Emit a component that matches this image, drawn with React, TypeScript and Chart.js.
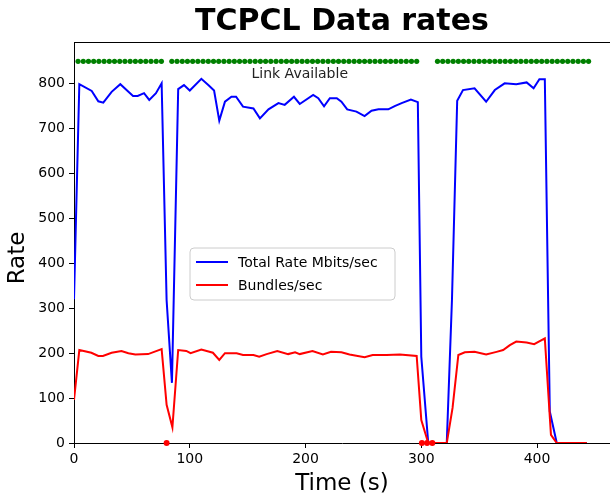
import React, { useEffect, useRef } from 'react';
import { Chart, registerables } from 'chart.js';

Chart.register(...registerables);

// ---- Data ----
const rateTimes = [0, 4.6, 15.3, 21, 25.3, 32.5, 40, 45.4, 51, 55, 60.5, 65, 70.8, 75.7, 80, 84.6, 90, 95, 100, 110, 116, 121, 125.5, 130.4, 136, 140, 146, 155, 160.6, 168, 176.6, 182, 190, 195, 206.6, 211, 216, 221, 227, 231, 236, 244, 251, 257, 263, 271.5, 277, 283, 291, 297, 300, 306, 322, 326.5, 331, 336, 346, 356, 363.5, 372, 382, 391, 397, 402, 406.7, 411, 417, 443];
const rateValues = [320, 799, 784, 761, 758, 782, 799, 786, 773, 773, 779, 764, 779, 801, 318, 134, 788, 797, 785, 811, 797, 785, 718, 760, 771, 771, 749, 745, 723, 743, 757, 753, 771, 755, 775, 768, 750, 768, 768, 760, 743, 738, 728, 740, 743, 743, 750, 757, 765, 759, 192, 0, 0, 320, 762, 786, 790, 760, 786, 801, 799, 803, 790, 810, 810, 70, 0, 0];

const bundleTimes = [0, 4.6, 15, 21, 25, 32.5, 41, 47, 53, 64, 75.7, 80, 85, 90, 97, 100.7, 110, 120, 125.5, 130.4, 140.5, 146, 155, 160, 166.4, 175.6, 185, 191, 195, 206, 215, 222, 231, 238, 251, 258, 270, 281.5, 296, 300, 306, 322, 327, 332, 337.6, 346, 356, 365, 370.7, 376.5, 382, 391, 397.5, 406.7, 412, 417, 443];
const bundleValues = [96, 207, 201, 194, 194, 201, 205, 200, 197, 198, 209, 85, 35, 207, 205, 200, 208, 201, 185, 200, 200, 196, 196, 192, 198, 205, 198, 202, 198, 205, 197, 203, 202, 197, 191, 196, 196, 197, 194, 51, 0, 0, 78, 196, 202, 203, 197, 203, 207, 218, 226, 224, 220, 233, 18, 0, 0];

const linkUpTimes = [3.5, 8, 12.5, 17, 21.5, 26, 30.5, 35, 39.5, 44, 48.5, 53, 57.5, 62, 66.5, 71, 75.5,
  84.5, 89, 93.5, 98, 102.5, 107, 111.5, 116, 120.5, 125, 129.5, 134, 138.5, 143, 147.5, 152, 156.5, 161, 165.5, 170, 174.5, 179, 183.5, 188, 192.5, 197, 201.5, 206, 210.5, 215, 219.5, 224, 228.5, 233, 237.5, 242, 246.5, 251, 255.5, 260, 264.5, 269, 273.5, 278, 282.5, 287, 291.5, 296,
  314, 318.5, 323, 327.5, 332, 336.5, 341, 345.5, 350, 354.5, 359, 363.5, 368, 372.5, 377, 381.5, 386, 390.5, 395, 399.5, 404, 408.5, 413, 417.5, 422, 426.5, 431, 435.5, 440, 444.5];
const LINK_UP_LEVEL = 850;
const linkDownTimes = [80, 300.5, 305, 309.5];
const LINK_DOWN_LEVEL = 0;

const xTicks = [0, 100, 200, 300, 400];
const yTicks = [0, 100, 200, 300, 400, 500, 600, 700, 800];
const X_MIN = 0, X_MAX = 463;
const Y_MIN = 0, Y_MAX = 893;

const TITLE = 'TCPCL Data rates';
const X_LABEL = 'Time (s)';
const Y_LABEL = 'Rate';
const ANNOTATION = 'Link Available';
const ANNOTATION_AT = { x: 195, y: 822 };
const RATE_LABEL = 'Total Rate Mbits/sec';
const BUNDLE_LABEL = 'Bundles/sec';

const FONT = '"DejaVu Sans", "Liberation Sans", sans-serif';

const pts = (xs: number[], ys: number[]) => xs.map((x, i) => ({ x, y: ys[i] }));

const overlayPlugin = {
  id: 'overlay',
  afterDraw(chart: any) {
    const { ctx, chartArea, scales } = chart;
    const cx = 342;
    ctx.save();
    // top spine
    ctx.strokeStyle = '#000';
    ctx.lineWidth = 1;
    ctx.beginPath();
    ctx.moveTo(chartArea.left, chartArea.top + 0.5);
    ctx.lineTo(chartArea.right, chartArea.top + 0.5);
    ctx.stroke();

    ctx.fillStyle = '#000';
    // title
    ctx.font = `bold 30px ${FONT}`;
    ctx.textAlign = 'center';
    ctx.textBaseline = 'middle';
    ctx.fillText(TITLE, cx, 22);
    // x label
    ctx.font = `23px ${FONT}`;
    ctx.fillText(X_LABEL, cx, 484);
    // y label
    ctx.save();
    ctx.translate(18, 258);
    ctx.rotate(-Math.PI / 2);
    ctx.fillText(Y_LABEL, 0, 0);
    ctx.restore();
    // annotation
    ctx.font = `14px ${FONT}`;
    ctx.fillStyle = '#222';
    ctx.fillText(ANNOTATION, scales.x.getPixelForValue(ANNOTATION_AT.x), scales.y.getPixelForValue(ANNOTATION_AT.y));

    // legend
    const lx = chartArea.left + 116, ly = chartArea.top + 206, lw = 205, lh = 52, r = 4;
    ctx.beginPath();
    ctx.moveTo(lx + r, ly);
    ctx.arcTo(lx + lw, ly, lx + lw, ly + lh, r);
    ctx.arcTo(lx + lw, ly + lh, lx, ly + lh, r);
    ctx.arcTo(lx, ly + lh, lx, ly, r);
    ctx.arcTo(lx, ly, lx + lw, ly, r);
    ctx.closePath();
    ctx.fillStyle = 'rgba(255,255,255,0.8)';
    ctx.fill();
    ctx.strokeStyle = '#cccccc';
    ctx.stroke();
    const entries = [chart.data.datasets[0], chart.data.datasets[1]];
    entries.forEach((ds: any, i: number) => {
      const yy = ly + 14 + i * 23;
      ctx.strokeStyle = ds.borderColor;
      ctx.lineWidth = 2;
      ctx.beginPath();
      ctx.moveTo(lx + 6, yy);
      ctx.lineTo(lx + 38, yy);
      ctx.stroke();
      ctx.fillStyle = '#000';
      ctx.font = `14px ${FONT}`;
      ctx.textAlign = 'left';
      ctx.textBaseline = 'middle';
      ctx.fillText(ds.label, lx + 48, yy + 1);
    });
    ctx.restore();
  },
};

export default function App() {
  const ref = useRef<HTMLCanvasElement | null>(null);
  useEffect(() => {
    if (!ref.current) return;
    const axisCommon = {
      type: 'linear' as const,
      grid: { display: true, drawOnChartArea: false, drawTicks: true, tickLength: 5, color: '#000', lineWidth: 1 },
      border: { display: true, color: '#000', width: 1 },
      ticks: { color: '#000', font: { family: FONT, size: 14 } },
    };
    const chart = new Chart(ref.current, {
      type: 'line',
      data: {
        datasets: [
          { label: RATE_LABEL, data: pts(rateTimes, rateValues), borderColor: '#0000ff', borderWidth: 2, pointRadius: 0, tension: 0, order: 4, fill: false },
          { label: BUNDLE_LABEL, data: pts(bundleTimes, bundleValues), borderColor: '#ff0000', borderWidth: 2, pointRadius: 0, tension: 0, order: 3, fill: false },
          { label: 'up', data: linkUpTimes.map((t) => ({ x: t, y: LINK_UP_LEVEL })), showLine: false, pointRadius: 2.6, pointBackgroundColor: '#008000', pointBorderWidth: 0, borderColor: '#008000', order: 2 },
          { label: 'down', data: linkDownTimes.map((t) => ({ x: t, y: LINK_DOWN_LEVEL })), showLine: false, pointRadius: 3, pointBackgroundColor: '#ff0000', pointBorderWidth: 0, borderColor: '#ff0000', order: 1, clip: false as any },
        ],
      },
      options: {
        animation: false,
        responsive: false,
        devicePixelRatio: 1,
        layout: { padding: { top: 42, left: 0, right: 0, bottom: 0 } },
        plugins: { legend: { display: false }, title: { display: false }, tooltip: { enabled: false } },
        scales: {
          x: {
            ...axisCommon,
            min: X_MIN,
            max: X_MAX,
            ticks: { ...axisCommon.ticks, padding: 3, maxRotation: 0 },
            afterBuildTicks: (s: any) => { s.ticks = xTicks.map((v) => ({ value: v })); },
            afterFit: (s: any) => { s.height = 54; },
          },
          y: {
            ...axisCommon,
            min: Y_MIN,
            max: Y_MAX,
            ticks: { ...axisCommon.ticks, padding: 4 },
            afterBuildTicks: (s: any) => { s.ticks = yTicks.map((v) => ({ value: v })); },
            afterFit: (s: any) => { s.width = 74; },
          },
        },
      },
      plugins: [overlayPlugin],
    });
    return () => chart.destroy();
  }, []);
  return (
    <div style={{ position: 'fixed', left: 0, top: 0, width: 610, height: 497, overflow: 'hidden', background: '#fff' }}>
      <canvas ref={ref} width={614} height={497} style={{ display: 'block' }} />
    </div>
  );
}
